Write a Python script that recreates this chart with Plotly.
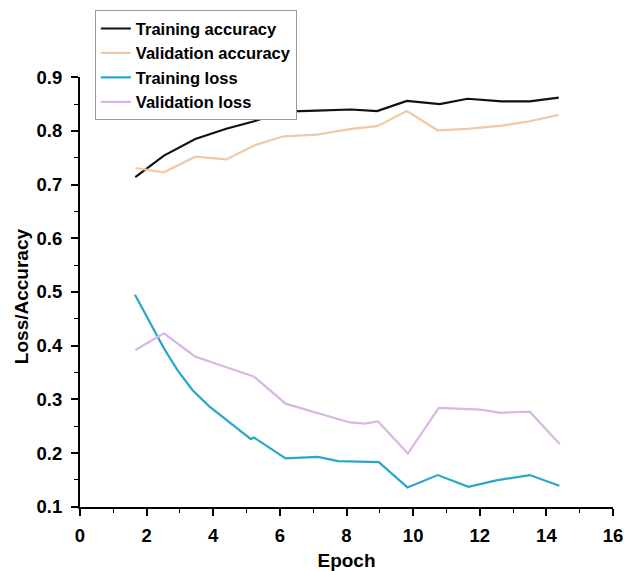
import plotly.graph_objects as go

# Training / validation curves per epoch
train_acc_epoch = [1.66, 2.52, 3.46, 4.39, 5.23, 6.11, 7.10, 8.14, 8.92, 9.81, 10.80, 11.63, 12.67, 13.50, 14.37]
train_acc = [0.714, 0.754, 0.785, 0.804, 0.818, 0.836, 0.838, 0.840, 0.837, 0.856, 0.850, 0.860, 0.855, 0.855, 0.862]

val_acc_epoch = [1.66, 2.52, 3.46, 4.39, 5.23, 6.11, 7.10, 8.14, 8.92, 9.81, 10.74, 11.63, 12.67, 13.50, 14.37]
val_acc = [0.731, 0.723, 0.752, 0.747, 0.773, 0.790, 0.793, 0.804, 0.809, 0.837, 0.801, 0.804, 0.810, 0.818, 0.830]

train_loss_epoch = [1.65, 2.52, 2.93, 3.38, 3.88, 4.53, 5.13, 5.22, 6.17, 7.14, 7.75, 8.97, 9.83, 10.74, 11.66, 12.50, 13.50, 14.39]
train_loss = [0.495, 0.395, 0.354, 0.317, 0.287, 0.255, 0.226, 0.229, 0.190, 0.193, 0.185, 0.183, 0.136, 0.159, 0.137, 0.149, 0.159, 0.139]

val_loss_epoch = [1.66, 2.52, 3.45, 4.40, 5.23, 6.17, 7.15, 8.10, 8.55, 8.95, 9.84, 10.77, 12.03, 12.63, 13.50, 14.40]
val_loss = [0.392, 0.423, 0.380, 0.360, 0.342, 0.292, 0.274, 0.257, 0.255, 0.259, 0.199, 0.284, 0.281, 0.275, 0.277, 0.217]

series = [
    ("Training accuracy", train_acc_epoch, train_acc, "#111111"),
    ("Validation accuracy", val_acc_epoch, val_acc, "#F2C8A4"),
    ("Training loss", train_loss_epoch, train_loss, "#2BA6CB"),
    ("Validation loss", val_loss_epoch, val_loss, "#D9B6E3"),
]

FONT = "Liberation Sans, Arial, sans-serif"
TITLE_FONT = dict(family=FONT, size=19, color="black", weight="bold")

fig = go.Figure()
for name, xs, ys, color in series:
    fig.add_trace(go.Scatter(x=xs, y=ys, mode="lines", name=name,
                             line=dict(color=color, width=2.2)))

axis_common = dict(
    showline=True, linecolor="black", linewidth=2,
    ticks="outside", tickcolor="black", tickwidth=1.6, ticklen=7,
    showgrid=False, zeroline=False, mirror=False, automargin=False,
    tickfont=dict(family=FONT, size=18.5, color="black", weight="bold"),
)

fig.update_xaxes(
    range=[0, 16], tick0=0, dtick=2,
    minor=dict(ticks="outside", dtick=1, ticklen=4, tickcolor="black", tickwidth=1.4),
    title=dict(text="Epoch", font=TITLE_FONT, standoff=19),
    ticklabelstandoff=4,
    **axis_common,
)
fig.update_yaxes(
    range=[0.0995, 0.9005], tick0=0.1, dtick=0.1, tickformat=".1f",
    minor=dict(ticks="outside", dtick=0.05, ticklen=4, tickcolor="black", tickwidth=1.4),
    ticklabelstandoff=5,
    **axis_common,
)

# Vertical y-axis title placed left of the tick labels
fig.add_annotation(
    text="Loss/Accuracy", textangle=-90, showarrow=False,
    xref="paper", yref="paper", x=-0.111, y=0.49,
    xanchor="center", yanchor="middle", font=TITLE_FONT,
)

fig.update_layout(
    width=624, height=571,
    margin=dict(l=80, r=11, t=77, b=64, autoexpand=False),
    paper_bgcolor="white", plot_bgcolor="white",
    showlegend=True,
    legend=dict(
        xref="container", yref="container",
        x=0.152, y=0.982, xanchor="left", yanchor="top",
        bgcolor="white", bordercolor="#9A9A9A", borderwidth=1,
        font=dict(family=FONT, size=16.5, color="black", weight="bold"),
        tracegroupgap=0,
    ),
)

fig.write_html("out.html")
